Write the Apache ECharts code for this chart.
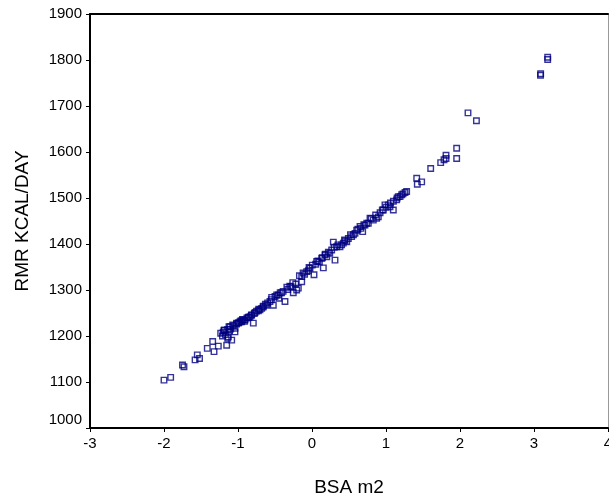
<!DOCTYPE html>
<html>
<head>
<meta charset="utf-8">
<script src="https://cdn.jsdelivr.net/npm/echarts@6/dist/echarts.min.js"></script>
<style>html,body{margin:0;padding:0;background:#fff}#c{width:609px;height:504px}</style>
</head>
<body>
<div id="c"></div>
<script>
// BSA m2 (x) values
var bsa = [
-2.00,-1.91,-1.75,-1.73,-1.58,-1.55,-1.52,-1.415,-1.342,-1.324,-1.266,-1.234,-1.189,-1.153,-1.131,-1.108,-1.072,-1.085,-1.041,-1.018,
-0.973,-0.928,-0.838,-0.793,-0.703,-0.612,-0.545,-0.455,-0.365,-0.253,
-1.185,-1.122,-1.139,-1.041,-0.996,-0.950,-0.905,-0.861,-0.815,-0.770,-0.725,-0.680,-0.658,-0.568,-0.523,-0.477,-0.446,-0.410,-0.328,-0.284,
-0.220,-0.185,-0.139,
-0.207,-0.139,-0.072,-0.027,0.027,0.004,0.063,0.131,0.153,0.176,0.221,0.266,0.288,0.311,0.333,0.378,0.423,0.446,0.491,0.536,0.581,0.604,
0.649,0.685,0.716,0.761,0.784,0.828,0.896,
0.874,0.964,0.986,1.031,1.099,1.054,1.144,1.166,1.212,1.257,1.279,1.415,1.423,1.482,1.604,1.739,1.784,1.811,1.811,1.955,1.955,
2.108,2.222,3.088,3.090,3.185,3.185,
-1.21,-1.17,-1.10,-1.06,-0.99,-0.94,-0.88,-0.75,-0.63,-0.50,-0.39,-0.30,-0.10,-0.05,0.05,0.10,0.20,0.24,0.40,0.47,0.56,0.66,0.74,0.92,1.00,1.10,1.19,
-1.20,-1.14,-1.12,-1.02,-0.96,-0.91,-0.86,-0.82,-0.78,-0.72,-0.66,-0.60,-0.55,-0.43,-0.34,-0.26,-0.17,-0.12,-0.04,0.08,0.14,0.18,0.30,0.35,0.44,0.52,0.62,0.70,0.80,0.86,0.95,1.06,1.15,1.23
];
// RMR KCAL/DAY (y) values
var rmr = [
1104,1110,1137,1133,1148,1159,1151,1173,1188,1166,1178,1206,1212,1180,1198,1220,1224,1191,1209,1228,
1231,1235,1242,1228,1257,1267,1284,1289,1275,1294,
1213,1220,1195,1217,1228,1231,1235,1241,1246,1251,1255,1260,1265,1275,1267,1289,1282,1294,1301,1307,
1313,1304,1318,
1300,1329,1340,1347,1333,1354,1362,1369,1348,1376,1382,1387,1404,1365,1394,1394,1402,1407,1412,1416,1423,1430,
1438,1427,1441,1445,1456,1452,1459,
1456,1474,1485,1485,1474,1481,1496,1503,1507,1512,1514,1543,1530,1535,1564,1577,1583,1593,1586,1608,1586,
1685,1668,1767,1770,1801,1806,
1200,1203,1215,1222,1229,1236,1239,1254,1269,1286,1297,1308,1334,1342,1356,1361,1372,1380,1398,1405,1420,1434,1445,1468,1480,1493,1503,
1208,1214,1210,1226,1233,1232,1240,1245,1249,1258,1263,1272,1279,1294,1306,1316,1331,1337,1349,1363,1370,1378,1393,1398,1409,1420,1432,1442,1455,1463,1474,1489,1500,1509
];

var points = bsa.map(function (v, i) { return [v, rmr[i]]; });

var chart = echarts.init(document.getElementById('c'), null, {renderer: 'canvas'});
var fontFam = 'Liberation Sans, Arial, sans-serif';
chart.setOption({
  animation: false,
  backgroundColor: '#fff',
  grid: {left: 90, top: 14, right: 1, bottom: 76, containLabel: false, outerBoundsMode: 'none'},
  xAxis: [{
    type: 'value', min: -3, max: 4, interval: 1,
    name: 'BSA m2', nameLocation: 'middle', nameGap: 50,
    nameTextStyle: {fontFamily: fontFam, fontSize: 19, color: '#000'},
    axisLine: {show: true, onZero: false, lineStyle: {color: '#000', width: 2}},
    axisTick: {show: true, length: 4, lineStyle: {color: '#000', width: 1}},
    axisLabel: {fontFamily: fontFam, fontSize: 15, color: '#000', margin: 8, hideOverlap: false},
    splitLine: {show: false}
  }, {
    type: 'value', position: 'top', min: -3, max: 4, interval: 1,
    axisLine: {show: true, onZero: false, lineStyle: {color: '#000', width: 2}},
    axisTick: {show: false}, axisLabel: {show: false}, splitLine: {show: false}
  }],
  yAxis: [{
    type: 'value', min: 1000, max: 1900, interval: 100,
    name: 'RMR KCAL/DAY', nameLocation: 'middle', nameGap: 58,
    nameTextStyle: {fontFamily: fontFam, fontSize: 19, color: '#000'},
    axisLine: {show: true, onZero: false, lineStyle: {color: '#000', width: 2}},
    axisTick: {show: true, length: 4, lineStyle: {color: '#000', width: 1}},
    axisLabel: {
      fontFamily: fontFam, fontSize: 15, color: '#000', margin: 8,
      formatter: function (v) { return v === 1000 ? '{low|' + v + '}' : String(v); },
      rich: {low: {fontFamily: fontFam, fontSize: 15, color: '#000', padding: [0, 0, 16, 0]}}
    },
    splitLine: {show: false}
  }, {
    type: 'value', position: 'right', min: 1000, max: 1900, interval: 100,
    axisLine: {show: true, onZero: false, lineStyle: {color: '#999', width: 1}},
    axisTick: {show: false}, axisLabel: {show: false}, splitLine: {show: false}
  }],
  series: [{
    type: 'scatter',
    data: points,
    symbol: 'rect',
    symbolSize: 5.5,
    itemStyle: {color: 'rgba(255,255,255,0)', borderColor: '#000080', borderWidth: 1.4}
  }]
});
</script>
</body>
</html>
